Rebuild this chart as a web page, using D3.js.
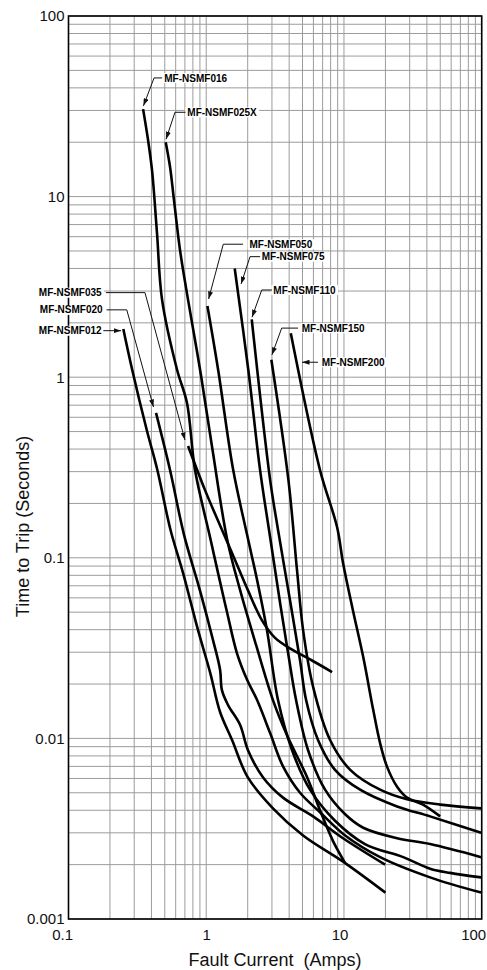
<!DOCTYPE html>
<html lang="en">
<head>
<meta charset="UTF-8">
<script src="https://cdn.jsdelivr.net/npm/d3@7.8.5/dist/d3.min.js"></script>
<title>MF-NSMF Time to Trip</title>
<style>
    body { margin: 0; background: #fff; }
    svg { display: block; font-family: "Liberation Sans", Arial, sans-serif; }
    .grid line { stroke: #9c9c9c; stroke-width: 1; }
    .frame { fill: none; stroke: #000; stroke-width: 1.6; }
    .curve { fill: none; stroke: #000; stroke-width: 2.6; stroke-linejoin: round; }
    .leader { fill: none; stroke: #111; stroke-width: 1; }
    .tag { font-size: 10px; font-weight: bold; fill: #000; }
    .tick-label { font-size: 15px; fill: #111; }
    .axis-title { font-size: 18px; fill: #111; white-space: pre; }
</style>
</head>
<body>
<svg width="487" height="970"></svg>
<script>
// axis ticks
const xTicks = [0.1, 1, 10, 100];
const xTickLabels = ["0.1", "1", "10", "100"];
const yTicks = [0.001, 0.01, 0.1, 1, 10, 100];
const yTickLabels = ["0.001", "0.01", "0.1", "1", "10", "100"];

// curves: fault current (A) and time to trip (s)
const amps012 = [0.25, 0.29, 0.37, 0.44, 0.55, 0.68, 0.87, 1.07, 1.26, 1.54, 2.0, 3.05, 5.05, 10.2, 20];
const secs012 = [1.85, 1.1, 0.51, 0.31, 0.143, 0.082, 0.040, 0.023, 0.014, 0.0098, 0.0061, 0.0041, 0.0029, 0.00204, 0.0014];

const amps016 = [0.348, 0.378, 0.404, 0.439, 0.478, 0.614, 0.725, 0.829, 1.066, 1.22, 1.42, 1.67, 1.98, 2.34, 2.91, 3.61, 4.8, 6.7, 10.2, 18.3, 42.2, 99];
const secs016 = [30.5, 20.6, 14.0, 6.29, 2.68, 1.10, 0.72, 0.306, 0.130, 0.082, 0.0495, 0.0297, 0.0211, 0.0163, 0.0107, 0.0070, 0.0050, 0.0039, 0.0029, 0.0022, 0.0017, 0.0014];

const amps020 = [0.432, 0.546, 0.69, 0.90, 1.12, 1.26, 1.30, 1.44, 1.76, 2.01, 2.58, 3.61, 5.97, 9.85, 19.9];
const secs020 = [0.634, 0.306, 0.134, 0.066, 0.035, 0.024, 0.0185, 0.0153, 0.0119, 0.0086, 0.0061, 0.0047, 0.0037, 0.0028, 0.0020];

const amps025X = [0.508, 0.546, 0.583, 0.645, 0.738, 0.902, 1.10, 1.42, 1.76, 2.30, 3.05, 3.86, 5.40, 6.70, 8.33, 10.2];
const secs025X = [20, 14.6, 9.58, 5.06, 2.68, 1.10, 0.416, 0.126, 0.0664, 0.0329, 0.0163, 0.0104, 0.0061, 0.0040, 0.0027, 0.00204];

const amps035 = [0.738, 0.98, 1.30, 1.62, 2.01, 2.54, 3.16, 4.20, 5.86, 8.20];
const secs035 = [0.416, 0.237, 0.143, 0.097, 0.066, 0.045, 0.036, 0.031, 0.027, 0.0233];

const amps050 = [1.02, 1.22, 1.57, 1.98, 2.34, 2.76, 3.32, 4.20, 5.67, 8.61, 14.2, 26.9, 42.2, 59, 99];
const secs050 = [2.48, 1.10, 0.306, 0.134, 0.0754, 0.0398, 0.0163, 0.0086, 0.0052, 0.0035, 0.0026, 0.0022, 0.0019, 0.0018, 0.0017];

const amps075 = [1.61, 2.02, 2.46, 2.91, 3.44, 3.93, 4.49, 5.49, 7.29, 10.2, 13.8, 24.3, 42.2, 99];
const secs075 = [4.0, 1.10, 0.306, 0.130, 0.056, 0.0297, 0.0163, 0.0086, 0.0052, 0.0038, 0.0032, 0.0028, 0.0026, 0.0022];

const amps110 = [2.14, 2.91, 3.32, 4.06, 4.80, 5.31, 6.48, 8.61, 13.1, 24.3, 42.2, 99];
const secs110 = [2.09, 0.270, 0.143, 0.058, 0.027, 0.0163, 0.0098, 0.0067, 0.0052, 0.0042, 0.0037, 0.0030];

const amps150 = [2.97, 3.95, 4.56, 5.05, 5.97, 7.93, 11.1, 18.3, 28.7, 49.9, 99];
const secs150 = [1.25, 0.270, 0.0856, 0.0398, 0.0193, 0.0098, 0.0067, 0.0052, 0.0046, 0.0043, 0.0041];

const amps200 = [4.11, 6.70, 8.91, 9.85, 11.6, 13.8, 16.3, 18.3, 20.5, 24.3, 28.7, 37.5, 49.9];
const secs200 = [1.75, 0.306, 0.148, 0.0935, 0.0514, 0.0282, 0.0144, 0.0094, 0.0070, 0.0054, 0.0047, 0.0043, 0.0037];

// part number tags: text anchor and leader (in amps / seconds)
const tagNames = ["MF-NSMF016", "MF-NSMF025X", "MF-NSMF050", "MF-NSMF075", "MF-NSMF110",
                  "MF-NSMF150", "MF-NSMF200", "MF-NSMF035", "MF-NSMF020", "MF-NSMF012"];
const tagAt = [[0.496, 45.4], [0.729, 29.3], [2.06, 5.45], [2.53, 4.65], [3.07, 3.04],
               [4.94, 1.87], [6.90, 1.21], [0.174, 2.94], [0.177, 2.36], [0.174, 1.81]];
const tagAlign = ["start", "start", "start", "start", "start", "start", "start", "end", "end", "end"];
const tagLeaders = [
    [[0.478, 45.4], [0.418, 45.4], [0.350, 31.8]],
    [[0.707, 29.3], [0.593, 29.3], [0.511, 20.8]],
    [[1.85, 5.45], [1.33, 5.45], [1.04, 2.71]],
    [[2.46, 4.65], [2.08, 4.65], [1.79, 3.28]],
    [[3.0, 3.04], [2.53, 3.04], [2.15, 2.15]],
    [[4.64, 1.87], [3.53, 1.87], [3.0, 1.33]],
    [[6.48, 1.21], [4.96, 1.21]],
    [[0.187, 2.94], [0.359, 2.94], [0.701, 0.449]],
    [[0.189, 2.36], [0.265, 2.36], [0.414, 0.684]],
    [[0.179, 1.81], [0.241, 1.81]]
];

const series = [
    [amps012, secs012], [amps016, secs016], [amps020, secs020], [amps025X, secs025X],
    [amps035, secs035], [amps050, secs050], [amps075, secs075], [amps110, secs110],
    [amps150, secs150], [amps200, secs200]
].map(([a, s]) => a.map((v, i) => [v, s[i]]));

const svg = d3.select("svg");
const plot = {left: 68.5, right: 481.7, top: 16, bottom: 919};

const x = d3.scaleLog().domain([0.1, 100]).range([plot.left, plot.right]);
const y = d3.scaleLog().domain([0.001, 100]).range([plot.bottom, plot.top]);

// log grid: 1..9 in every decade
const xGrid = d3.range(-1, 2).flatMap(e => d3.range(1, 10).map(m => m * Math.pow(10, e))).concat([100]);
const yGrid = d3.range(-3, 2).flatMap(e => d3.range(1, 10).map(m => m * Math.pow(10, e))).concat([100]);

const grid = svg.append("g").attr("class", "grid");
grid.selectAll("line.v").data(xGrid).join("line").attr("class", "v")
    .attr("x1", d => x(d)).attr("x2", d => x(d))
    .attr("y1", plot.top).attr("y2", plot.bottom);
grid.selectAll("line.h").data(yGrid).join("line").attr("class", "h")
    .attr("x1", plot.left).attr("x2", plot.right)
    .attr("y1", d => y(d)).attr("y2", d => y(d));

svg.append("rect").attr("class", "frame")
    .attr("x", plot.left).attr("y", plot.top)
    .attr("width", plot.right - plot.left).attr("height", plot.bottom - plot.top);

// trip curves
const line = d3.line()
    .x(d => x(d[0])).y(d => y(d[1]))
    .curve(d3.curveCatmullRom.alpha(0.5));

svg.append("g").selectAll("path").data(series).join("path")
    .attr("class", "curve")
    .attr("d", line);

// arrow head for the leaders
svg.append("defs").append("marker")
    .attr("id", "arrow")
    .attr("markerUnits", "userSpaceOnUse")
    .attr("markerWidth", 8).attr("markerHeight", 5)
    .attr("refX", 7.5).attr("refY", 2.5)
    .attr("orient", "auto")
    .append("path").attr("d", "M0,0L7.5,2.5L0,5Z").attr("fill", "#111");

// tags with white backing
const tags = svg.append("g");
const tagText = tags.selectAll("text").data(tagNames).join("text")
    .attr("class", "tag")
    .attr("x", (d, i) => x(tagAt[i][0]))
    .attr("y", (d, i) => y(tagAt[i][1]))
    .attr("dy", "0.36em")
    .attr("text-anchor", (d, i) => tagAlign[i])
    .text(d => d);

tagText.each(function () {
    const b = this.getBBox();
    tags.insert("rect", "text")
        .attr("x", b.x - 2).attr("y", b.y + 0.5)
        .attr("width", b.width + 4).attr("height", b.height - 1)
        .attr("fill", "#fff");
});

const leaderLine = d3.line().x(d => x(d[0])).y(d => y(d[1]));
tags.insert("g", "text").selectAll("path").data(tagLeaders).join("path")
    .attr("class", "leader")
    .attr("d", leaderLine)
    .attr("marker-end", "url(#arrow)");

// tick labels
svg.append("g").selectAll("text").data(yTicks).join("text")
    .attr("class", "tick-label")
    .attr("x", plot.left - 4)
    .attr("y", d => y(d))
    .attr("dy", "0.36em")
    .attr("text-anchor", "end")
    .text((d, i) => yTickLabels[i]);

svg.append("g").selectAll("text").data(xTicks).join("text")
    .attr("class", "tick-label")
    .attr("x", d => x(d) + 4.5)
    .attr("y", plot.bottom + 20.5)
    .attr("text-anchor", "end")
    .text((d, i) => xTickLabels[i]);

// axis titles
svg.append("text").attr("class", "axis-title")
    .attr("x", (plot.left + plot.right) / 2)
    .attr("y", 966)
    .attr("text-anchor", "middle")
    .text("Fault Current  (Amps)");

svg.append("text").attr("class", "axis-title")
    .attr("transform", "translate(28.5," + 526.5 + ") rotate(-90)")
    .attr("text-anchor", "middle")
    .text("Time to Trip (Seconds)");
</script>
</body>
</html>
